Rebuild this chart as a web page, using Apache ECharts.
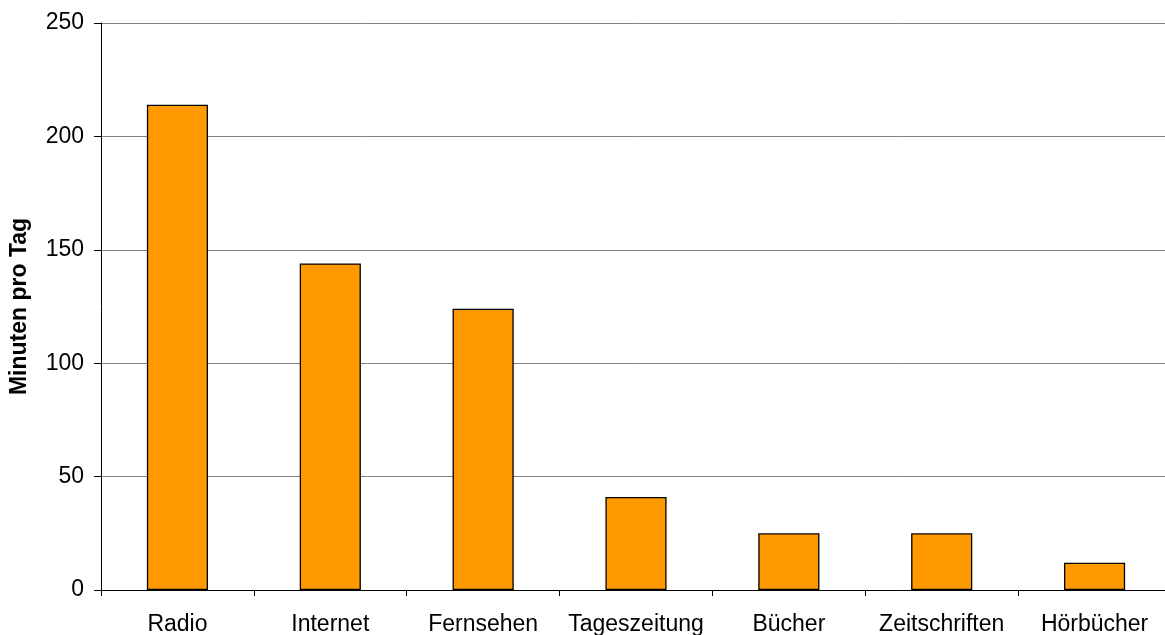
<!DOCTYPE html>
<html>
<head>
<meta charset="utf-8">
<script src="https://cdn.jsdelivr.net/npm/echarts@6/dist/echarts.min.js"></script>
<style>html,body{margin:0;padding:0;background:#fff;}#c{width:1165px;height:635px;}</style>
</head>
<body>
<div id="c"></div>
<script>
const categories = ['Radio', 'Internet', 'Fernsehen', 'Tageszeitung', 'Bücher', 'Zeitschriften', 'Hörbücher'];
const minutes = [214, 144, 124, 41, 25, 25, 12];
const yAxisName = 'Minuten pro Tag';

const FONT = 'Liberation Sans, Arial, sans-serif';
const chart = echarts.init(document.getElementById('c'), null, {renderer: 'canvas'});
chart.setOption({
  animation: false,
  backgroundColor: '#ffffff',
  grid: {left: 101, right: -6, top: 23, bottom: 45, containLabel: false, outerBoundsMode: 'none'},
  xAxis: {
    type: 'category',
    data: categories,
    boundaryGap: true,
    axisLine: {show: true, lineStyle: {color: '#000', width: 1}},
    axisTick: {show: true, alignWithLabel: false, length: 6, lineStyle: {color: '#000'}},
    axisLabel: {color: '#000', fontFamily: FONT, fontSize: 23, margin: 23, interval: 0, hideOverlap: false},
    splitLine: {show: false}
  },
  yAxis: {
    type: 'value',
    min: 0, max: 250, interval: 50,
    name: yAxisName,
    nameLocation: 'middle',
    nameGap: 70,
    nameRotate: 90,
    nameTextStyle: {color: '#000', fontFamily: FONT, fontSize: 23, fontWeight: 'bold'},
    axisLine: {show: true, lineStyle: {color: '#000', width: 1}},
    axisTick: {show: true, length: 7, inside: false, lineStyle: {color: '#000'}},
    axisLabel: {color: '#000', fontFamily: FONT, fontSize: 23, margin: 17},
    splitLine: {show: true, lineStyle: {color: '#808080', width: 1}}
  },
  series: [{
    type: 'bar',
    data: minutes,
    barWidth: '40%',
    itemStyle: {color: '#FF9900', borderColor: '#000', borderWidth: 1.3},
    silent: true
  }]
});
</script>
</body>
</html>
